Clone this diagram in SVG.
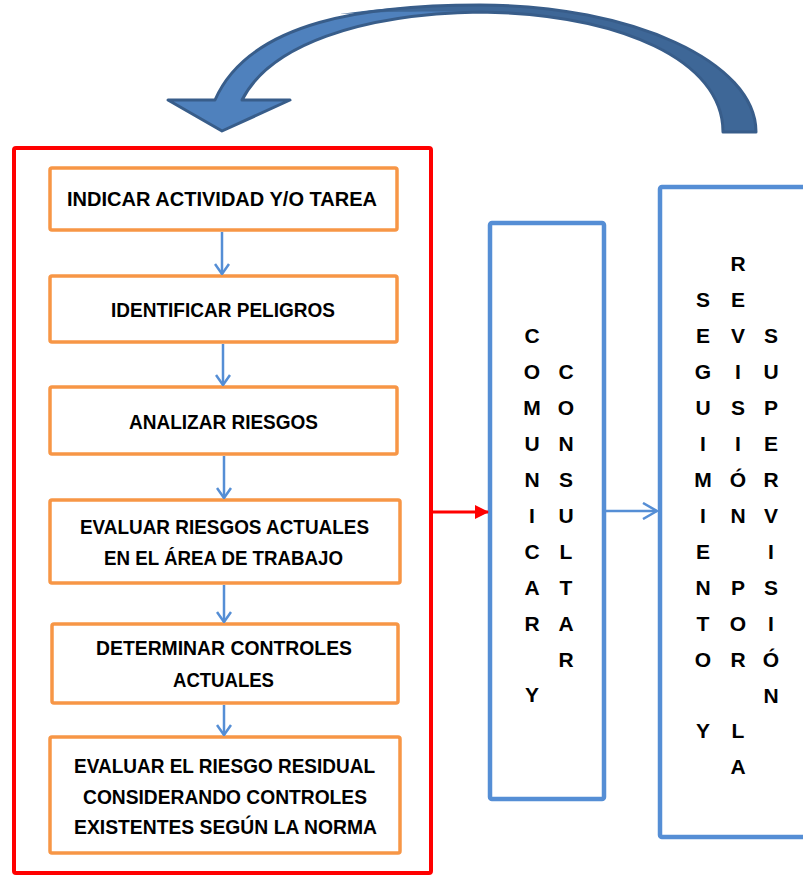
<svg xmlns="http://www.w3.org/2000/svg" width="803" height="876" viewBox="0 0 803 876">
<defs>
<style>
.step{fill:#fff;stroke:#F79646;stroke-width:3.5}
.bt{font-family:"Liberation Sans",Arial,sans-serif;font-weight:bold;font-size:21px;fill:#000;text-anchor:middle}
.vt{font-family:"Liberation Sans",Arial,sans-serif;font-weight:bold;font-size:21px;fill:#000;text-anchor:middle}
.flow{stroke:#558ED5;stroke-width:2.5;fill:none}
.bluebox{fill:#fff;stroke:#558ED5;stroke-width:4.5}
</style>
<marker id="open" viewBox="0 0 12 16" refX="11" refY="8" markerWidth="12" markerHeight="16" markerUnits="userSpaceOnUse" orient="auto">
<path d="M1 1 L11 8 L1 15" fill="none" stroke="#558ED5" stroke-width="2.5"/>
</marker>
<marker id="open2" viewBox="0 0 16 18" refX="15" refY="9" markerWidth="16" markerHeight="18" markerUnits="userSpaceOnUse" orient="auto">
<path d="M1 1 L15 9 L1 17" fill="none" stroke="#558ED5" stroke-width="2.5"/>
</marker>
<marker id="redhead" viewBox="0 0 14 14" refX="13" refY="7" markerWidth="14" markerHeight="14" markerUnits="userSpaceOnUse" orient="auto">
<path d="M0 0 L14 7 L0 14 Z" fill="#FF0000"/>
</marker>
</defs>
<rect width="803" height="876" fill="#fff"/>

<g id="curved-arrow">
<path d="M756 132 C756 62 632 5 480 5 C370 5 250 20 215 100 L168 100 L222 131 L290 100 L242 100 C270 45 360 14 480 12 C620 14 723 60 723 132 Z" fill="#4F81BD"/>
<path d="M756 132 C756 62 632 5 480 5 C430 5 380 8 340 14 C390 11 440 11 480 12 C620 14 723 60 723 132 Z" fill="#3E6797"/>
<path d="M756 132 C756 62 632 5 480 5 C370 5 250 20 215 100 L168 100 L222 131 L290 100 L242 100 C270 45 360 14 480 12 C620 14 723 60 723 132 Z" fill="none" stroke="#385D8A" stroke-width="3" stroke-linejoin="round"/>
</g>

<g id="process-frame">
<rect x="14" y="148" width="417" height="725" rx="2" fill="none" stroke="#FF0000" stroke-width="4"/>
</g>

<g id="step1">
<rect class="step" x="50" y="168" width="347" height="62" rx="2"/>
<text class="bt" x="222" y="206" textLength="310" lengthAdjust="spacingAndGlyphs">INDICAR ACTIVIDAD Y/O TAREA</text>
</g>
<g id="step2">
<rect class="step" x="50" y="276" width="347" height="66" rx="2"/>
<text class="bt" x="223" y="317" textLength="224" lengthAdjust="spacingAndGlyphs">IDENTIFICAR PELIGROS</text>
</g>
<g id="step3">
<rect class="step" x="50" y="387" width="347" height="67" rx="2"/>
<text class="bt" x="223.5" y="429" textLength="189" lengthAdjust="spacingAndGlyphs">ANALIZAR RIESGOS</text>
</g>
<g id="step4">
<rect class="step" x="50" y="500" width="350" height="83" rx="2"/>
<text class="bt" x="224.5" y="534" textLength="289" lengthAdjust="spacingAndGlyphs">EVALUAR RIESGOS ACTUALES</text>
<text class="bt" x="223.5" y="565" textLength="239" lengthAdjust="spacingAndGlyphs">EN EL ÁREA DE TRABAJO</text>
</g>
<g id="step5">
<rect class="step" x="52" y="624" width="346" height="79" rx="2"/>
<text class="bt" x="224" y="655" textLength="256" lengthAdjust="spacingAndGlyphs">DETERMINAR CONTROLES</text>
<text class="bt" x="223.5" y="687" textLength="101" lengthAdjust="spacingAndGlyphs">ACTUALES</text>
</g>
<g id="step6">
<rect class="step" x="50" y="737" width="350" height="116" rx="2"/>
<text class="bt" x="224.5" y="773" textLength="301" lengthAdjust="spacingAndGlyphs">EVALUAR EL RIESGO RESIDUAL</text>
<text class="bt" x="225" y="804" textLength="284" lengthAdjust="spacingAndGlyphs">CONSIDERANDO CONTROLES</text>
<text class="bt" x="225.5" y="834" textLength="303" lengthAdjust="spacingAndGlyphs">EXISTENTES SEGÚN LA NORMA</text>
</g>

<g id="comunicar">
<rect class="bluebox" x="490" y="223" width="114" height="576" rx="2"/>
<text class="vt"><tspan x="532" y="343">C</tspan><tspan x="532" y="379">O</tspan><tspan x="532" y="415">M</tspan><tspan x="532" y="451">U</tspan><tspan x="532" y="487">N</tspan><tspan x="532" y="523">I</tspan><tspan x="532" y="559">C</tspan><tspan x="532" y="595">A</tspan><tspan x="532" y="631">R</tspan><tspan x="532" y="702">Y</tspan></text>
<text class="vt"><tspan x="566" y="379">C</tspan><tspan x="566" y="415">O</tspan><tspan x="566" y="451">N</tspan><tspan x="566" y="487">S</tspan><tspan x="566" y="523">U</tspan><tspan x="566" y="559">L</tspan><tspan x="566" y="595">T</tspan><tspan x="566" y="631">A</tspan><tspan x="566" y="667">R</tspan></text>
</g>

<g id="seguimiento">
<rect class="bluebox" x="660" y="187" width="170" height="650" rx="2"/>
<text class="vt"><tspan x="703" y="307">S</tspan><tspan x="703" y="343">E</tspan><tspan x="703" y="379">G</tspan><tspan x="703" y="415">U</tspan><tspan x="703" y="451">I</tspan><tspan x="703" y="487">M</tspan><tspan x="703" y="523">I</tspan><tspan x="703" y="559">E</tspan><tspan x="703" y="595">N</tspan><tspan x="703" y="631">T</tspan><tspan x="703" y="667">O</tspan><tspan x="703" y="738">Y</tspan></text>
<text class="vt"><tspan x="738" y="271">R</tspan><tspan x="738" y="307">E</tspan><tspan x="738" y="343">V</tspan><tspan x="738" y="379">I</tspan><tspan x="738" y="415">S</tspan><tspan x="738" y="451">I</tspan><tspan x="738" y="487">Ó</tspan><tspan x="738" y="523">N</tspan><tspan x="738" y="595">P</tspan><tspan x="738" y="631">O</tspan><tspan x="738" y="667">R</tspan><tspan x="738" y="738">L</tspan><tspan x="738" y="774">A</tspan></text>
<text class="vt"><tspan x="771" y="343">S</tspan><tspan x="771" y="379">U</tspan><tspan x="771" y="415">P</tspan><tspan x="771" y="451">E</tspan><tspan x="771" y="487">R</tspan><tspan x="771" y="523">V</tspan><tspan x="771" y="559">I</tspan><tspan x="771" y="595">S</tspan><tspan x="771" y="631">I</tspan><tspan x="771" y="667">Ó</tspan><tspan x="771" y="703">N</tspan></text>
</g>

<g id="connectors">
<line class="flow" x1="222" y1="232" x2="222" y2="274" marker-end="url(#open)"/>
<line class="flow" x1="223" y1="344" x2="223" y2="385" marker-end="url(#open)"/>
<line class="flow" x1="224" y1="456" x2="224" y2="498" marker-end="url(#open)"/>
<line class="flow" x1="224" y1="585" x2="224" y2="622" marker-end="url(#open)"/>
<line class="flow" x1="224" y1="705" x2="224" y2="735" marker-end="url(#open)"/>
<line x1="433" y1="512" x2="488" y2="512" stroke="#FF0000" stroke-width="3" marker-end="url(#redhead)"/>
<line x1="606" y1="511" x2="657" y2="511" stroke="#558ED5" stroke-width="2.5" marker-end="url(#open2)"/>
</g>
</svg>
